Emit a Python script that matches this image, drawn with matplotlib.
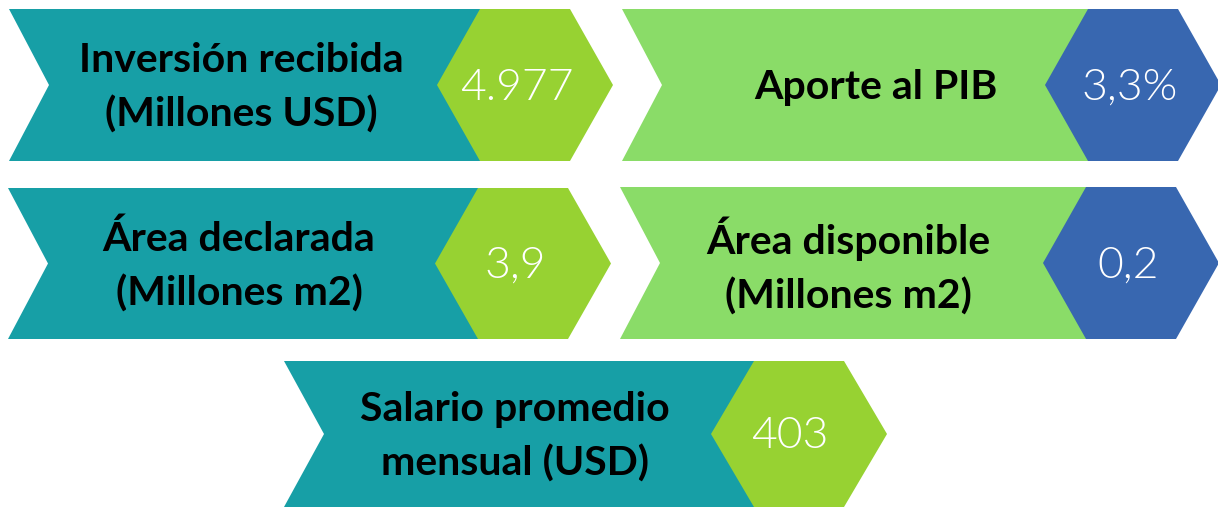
import matplotlib
matplotlib.use("Agg")
import matplotlib.pyplot as plt
from matplotlib.patches import Polygon

# ---- data ----
labels = ["Inversión recibida\n(Millones USD)", "Aporte al PIB",
          "Área declarada\n(Millones m2)", "Área disponible\n(Millones m2)",
          "Salario promedio\nmensual (USD)"]
values = ["4.977", "3,3%", "3,9", "0,2", "403"]

# ---- styles / layout ----
TEAL = "#179FA6"
LIME = "#97D232"
LGREEN = "#8ADC68"
BLUE = "#3867B0"
band_colors = [TEAL, LGREEN, TEAL, LGREEN, TEAL]
hex_colors = [LIME, BLUE, LIME, BLUE, LIME]
# (x_left, y_top, y_bottom, hex_left)
layout = [(9, 10, 162, 437), (622, 10, 162, 1045), (8, 189, 340, 435),
          (620, 188, 340, 1043), (284, 362, 508, 711)]
label_cx = [241, 876, 239, 848, 515]
value_cx = [517, 1130, 515, 1128, 790]
NOTCH = 40
HEXW = 176
INSET = 43

W, H = 1218, 510
fig = plt.figure(figsize=(W / 100, H / 100), dpi=100)
ax = fig.add_axes([0, 0, 1, 1])
ax.set_xlim(0, W)
ax.set_ylim(H, 0)
ax.axis("off")

for i, (x0, yt, yb, hl) in enumerate(layout):
    ym = (yt + yb) / 2
    xr = hl + INSET + 12
    band = [(x0, yt), (xr, yt), (xr, yb), (x0, yb), (x0 + NOTCH, ym)]
    ax.add_patch(Polygon(band, closed=True, facecolor=band_colors[i], edgecolor="none"))
    hexa = [(hl, ym), (hl + INSET, yt), (hl + HEXW - INSET, yt), (hl + HEXW, ym),
            (hl + HEXW - INSET, yb), (hl + INSET, yb)]
    ax.add_patch(Polygon(hexa, closed=True, facecolor=hex_colors[i], edgecolor="none"))
    ax.text(label_cx[i], ym + 2, labels[i], ha="center", va="center", fontsize=29.5,
            fontfamily="Lato", fontweight="bold", color="black", linespacing=1.55)
    ax.text(value_cx[i], ym + 2, values[i], ha="center", va="center", fontsize=32,
            fontfamily="Lato", fontweight=300, color="white")

fig.savefig("out.png", dpi=100)
